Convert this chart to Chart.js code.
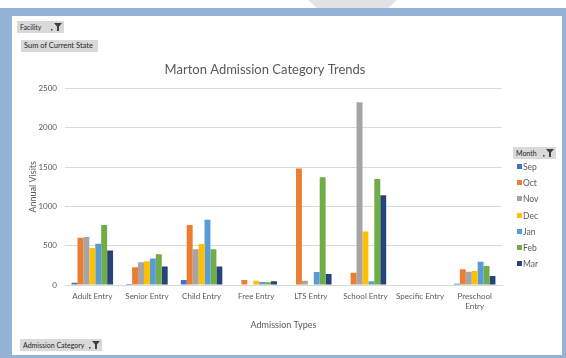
<!DOCTYPE html>
<html>
<head>
<meta charset="utf-8">
<script src="https://cdn.jsdelivr.net/npm/chart.js@4/dist/chart.umd.min.js"></script>
<style>
  html, body { margin:0; padding:0; background:#fff; width:566px; height:358px; overflow:hidden; font-family: Lato, "Open Sans", sans-serif; }
  .frame { position:absolute; background:#95b3d7; }
  #tri2 { position:absolute; left:308px; top:0; width:89px; height:8px; background:#e1e2e6;
          clip-path: polygon(0 0, 100% 0, 90% 100%, 10% 100%); }
  canvas { position:absolute; left:0; top:0; }
  .btn { position:absolute; background:#d9d9d9; color:#262626; font-size:7px; line-height:12px; height:12px; padding-left:3px; box-sizing:border-box; white-space:nowrap; }
  .btn svg { position:absolute; right:2px; top:2px; }
  #legend { position:absolute; left:517px; top:162px; font-size:8.5px; color:#595959; }
  .li { position:absolute; left:0; height:10px; line-height:10px; white-space:nowrap; }
  .li span.sw { position:absolute; left:0; top:2px; width:5px; height:5px; }
  .li span.tx { position:absolute; left:6px; top:0; }
</style>
</head>
<body>
<div id="tri2"></div>
<div class="frame" style="left:0;top:8px;width:566px;height:8px;"></div>
<div class="frame" style="left:0;top:8px;width:12px;height:350px;"></div>
<div class="frame" style="left:562px;top:8px;width:4px;height:350px;"></div>
<div class="frame" style="left:0;top:355px;width:566px;height:3px;"></div>
<canvas id="c" width="566" height="358"></canvas>

<div class="btn" style="left:17px;top:21px;width:47px;">Facility<svg width="11" height="8" viewBox="0 0 11 8"><rect x="0" y="6" width="1.5" height="1.5" fill="#404040"/><polygon points="3,0 11,0 8,3.5 8,8 6,8 6,3.5" fill="#404040"/></svg></div>
<div class="btn" style="left:21px;top:40px;width:77px;font-size:7.5px;">Sum of Current State</div>
<div class="btn" style="left:20px;top:339px;width:82px;">Admission Category<svg width="11" height="8" viewBox="0 0 11 8"><rect x="0" y="6" width="1.5" height="1.5" fill="#404040"/><polygon points="3,0 11,0 8,3.5 8,8 6,8 6,3.5" fill="#404040"/></svg></div>
<div class="btn" style="left:513px;top:147px;width:43px;">Month<svg width="11" height="8" viewBox="0 0 11 8"><rect x="0" y="6" width="1.5" height="1.5" fill="#404040"/><polygon points="3,0 11,0 8,3.5 8,8 6,8 6,3.5" fill="#404040"/></svg></div>
<div id="legend"></div>

<script>
const categories = ['Adult Entry', 'Senior Entry', 'Child Entry', 'Free Entry', 'LTS Entry', 'School Entry', 'Specific Entry', ['Preschool', 'Entry']];
const months = ['Sep', 'Oct', 'Nov', 'Dec', 'Jan', 'Feb', 'Mar'];
const sep = [30, 12, 64, 0, 0, 0, 0, 17];
const oct = [600, 225, 765, 64, 1484, 157, 0, 200];
const nov = [610, 289, 455, 5, 55, 2326, 0, 170];
const dec = [470, 302, 523, 55, 0, 680, 0, 179];
const jan = [525, 336, 829, 38, 166, 47, 0, 297];
const feb = [765, 391, 455, 34, 1373, 1348, 0, 242];
const mar = [440, 234, 234, 47, 140, 1144, 0, 115];
const yTicks = [0, 500, 1000, 1500, 2000, 2500];

const seriesValues = [sep, oct, nov, dec, jan, feb, mar];
const colors = ['#4472C4', '#ED7D31', '#A5A5A5', '#FFC000', '#5B9BD5', '#70AD47', '#264478'];
const FONT = 'Lato, "Open Sans", sans-serif';
const TXT = '#595959';

const datasets = months.map((m, i) => ({
  label: m,
  data: seriesValues[i],
  backgroundColor: colors[i],
  borderWidth: 0,
  categoryPercentage: 0.76,
  barPercentage: 1.0
}));

new Chart(document.getElementById('c'), {
  type: 'bar',
  data: { labels: categories, datasets },
  options: {
    responsive: false,
    animation: false,
    devicePixelRatio: 1,
    layout: { padding: { left: 28, right: 64, top: 62, bottom: 28 } },
    plugins: {
      legend: { display: false },
      tooltip: { enabled: false },
      title: {
        display: true,
        text: 'Marton Admission Category Trends',
        color: TXT,
        font: { family: FONT, size: 13, weight: 'normal' },
        padding: { top: 0, bottom: 11 }
      }
    },
    scales: {
      x: {
        grid: { display: false, drawTicks: false },
        border: { display: true, color: '#d9d9d9', width: 1 },
        ticks: { color: TXT, font: { family: FONT, size: 8 }, padding: 7, maxRotation: 0, autoSkip: false },
        title: { display: true, text: 'Admission Types', color: TXT, font: { family: FONT, size: 9 }, padding: { top: 0, bottom: 0 } },
        afterFit(s) { s.height = 45; }
      },
      y: {
        min: 0,
        max: 2500,
        afterBuildTicks(s) { s.ticks = yTicks.map(v => ({ value: v })); },
        grid: { color: '#d9d9d9', drawTicks: false },
        border: { display: false },
        ticks: { color: TXT, font: { family: FONT, size: 8 }, padding: 8, callback: v => String(v) },
        title: { display: true, text: 'Annual Visits', color: TXT, font: { family: FONT, size: 9 }, padding: { top: 0, bottom: 0 } },
        afterFit(s) { s.width = 37; }
      }
    }
  }
});

const lg = document.getElementById('legend');
months.forEach((m, i) => {
  const d = document.createElement('div');
  d.className = 'li';
  d.style.top = (i * 16.2) + 'px';
  d.innerHTML = '<span class="sw" style="background:' + colors[i] + '"></span><span class="tx">' + m + '</span>';
  lg.appendChild(d);
});
</script>
</body>
</html>
